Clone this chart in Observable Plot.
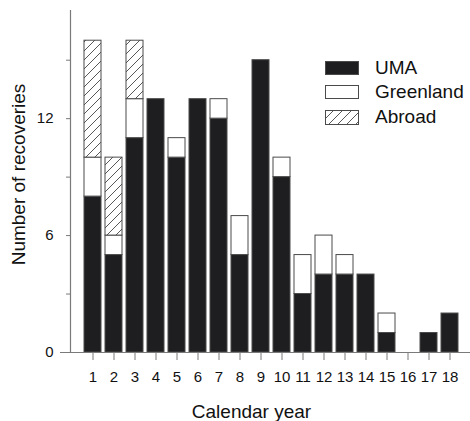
<!DOCTYPE html>
<html>
<head>
<meta charset="utf-8">
<script src="https://cdn.jsdelivr.net/npm/d3@7"></script>
<script src="https://cdn.jsdelivr.net/npm/@observablehq/plot@0.6"></script>
<style>
  html, body { margin: 0; padding: 0; background: #fff; }
  #wrap { position: relative; width: 470px; height: 421px; font-family: "Liberation Sans", Arial, Helvetica, sans-serif; }
  .lg-row { position: absolute; left: 325px; height: 24px; display: flex; align-items: center; }
  .lg-row svg { display: block; }
  .lg-row span { margin-left: 16px; font-size: 19px; color: #111; line-height: 24px; }
</style>
</head>
<body>
<div id="wrap"></div>
<script>
// ---- data ----
const years = ["1","2","3","4","5","6","7","8","9","10","11","12","13","14","15","16","17","18"];
const seriesNames = ["UMA", "Greenland", "Abroad"];
const uma       = [8, 5, 11, 13, 10, 13, 12, 5, 15, 9, 3, 4, 4, 4, 1, 0, 1, 2];
const greenland = [2, 1,  2,  0,  1,  0,  1, 2,  0, 1, 2, 2, 1, 0, 1, 0, 0, 0];
const abroad    = [6, 4,  3,  0,  0,  0,  0, 0,  0, 0, 0, 0, 0, 0, 0, 0, 0, 0];
const yTicks = [0, 3, 6, 9, 12, 15];
const yTickLabels = [0, 6, 12];

const colors = ["#1e1e20", "#ffffff", "url(#hatch)"];

const rows = [];
years.forEach((yr, i) => {
  [uma, greenland, abroad].forEach((arr, k) => {
    if (arr[i] > 0) rows.push({year: yr, series: seriesNames[k], value: arr[i]});
  });
});

const chart = Plot.plot({
  width: 470,
  height: 421,
  marginLeft: 70,
  marginRight: 0,
  marginTop: 10,
  marginBottom: 69,
  style: {fontFamily: "'Liberation Sans', Arial, Helvetica, sans-serif", fontSize: "15px", background: "#fff", color: "#111"},
  x: {type: "band", domain: years, range: [79.6, 462.4], padding: 0.18},
  y: {domain: [0, 17.55]},
  color: {type: "ordinal", domain: seriesNames, range: colors},
  marks: [
    Plot.barY(rows, {x: "year", y: "value", fill: "series", stroke: "#4a4a4a", strokeWidth: 1, order: seriesNames}),
    Plot.frame({anchor: "left", stroke: "#7a7a7a", strokeWidth: 1.2}),
    Plot.ruleY([0], {stroke: "#7a7a7a", strokeWidth: 1.2, insetLeft: -10}),
    Plot.axisY({ticks: yTicks, tickSize: 4, tickPadding: 13, stroke: "#7a7a7a", fill: "#111", fontSize: 15,
      tickFormat: d => yTickLabels.includes(d) ? String(d) : "", label: null}),
    Plot.axisX({tickSize: 8, tickPadding: 11, stroke: "#7a7a7a", fill: "#111", fontSize: 15, label: null}),
    Plot.text(["Number of recoveries"], {frameAnchor: "left", rotate: -90, dx: -52, dy: -7, fontSize: 19, textAnchor: "middle", lineAnchor: "middle", fill: "#111"}),
    Plot.text(["Calendar year"], {frameAnchor: "bottom", dx: -19, dy: 59, fontSize: 19, lineAnchor: "middle", fill: "#111"})
  ]
});

// hatch pattern definition
const defs = d3.select(chart).insert("defs", ":first-child");
const pat = defs.append("pattern")
  .attr("id", "hatch").attr("patternUnits", "userSpaceOnUse")
  .attr("width", 9).attr("height", 9);
pat.append("rect").attr("width", 9).attr("height", 9).attr("fill", "#fff");
pat.append("path").attr("d", "M-2,2 L2,-2 M0,9 L9,0 M7,11 L11,7")
  .attr("stroke", "#444").attr("stroke-width", 0.9);

const wrap = document.getElementById("wrap");
wrap.appendChild(chart);

// legend
const legendTops = [56, 80, 105];
seriesNames.forEach((name, i) => {
  const row = document.createElement("div");
  row.className = "lg-row";
  row.style.top = legendTops[i] + "px";
  let swatch;
  if (i === 2) {
    swatch = `<svg width="34" height="15"><defs><pattern id="hatchL" patternUnits="userSpaceOnUse" width="9" height="9"><rect width="9" height="9" fill="#fff"/><path d="M-2,2 L2,-2 M0,9 L9,0 M7,11 L11,7" stroke="#444" stroke-width="0.9"/></pattern></defs><rect x="0.5" y="0.5" width="33" height="14" fill="url(#hatchL)" stroke="#4a4a4a"/></svg>`;
  } else {
    swatch = `<svg width="34" height="14"><rect x="0.5" y="0.5" width="33" height="13" fill="${colors[i]}" stroke="#4a4a4a"/></svg>`;
  }
  row.innerHTML = swatch + `<span>${name}</span>`;
  wrap.appendChild(row);
});
</script>
</body>
</html>
